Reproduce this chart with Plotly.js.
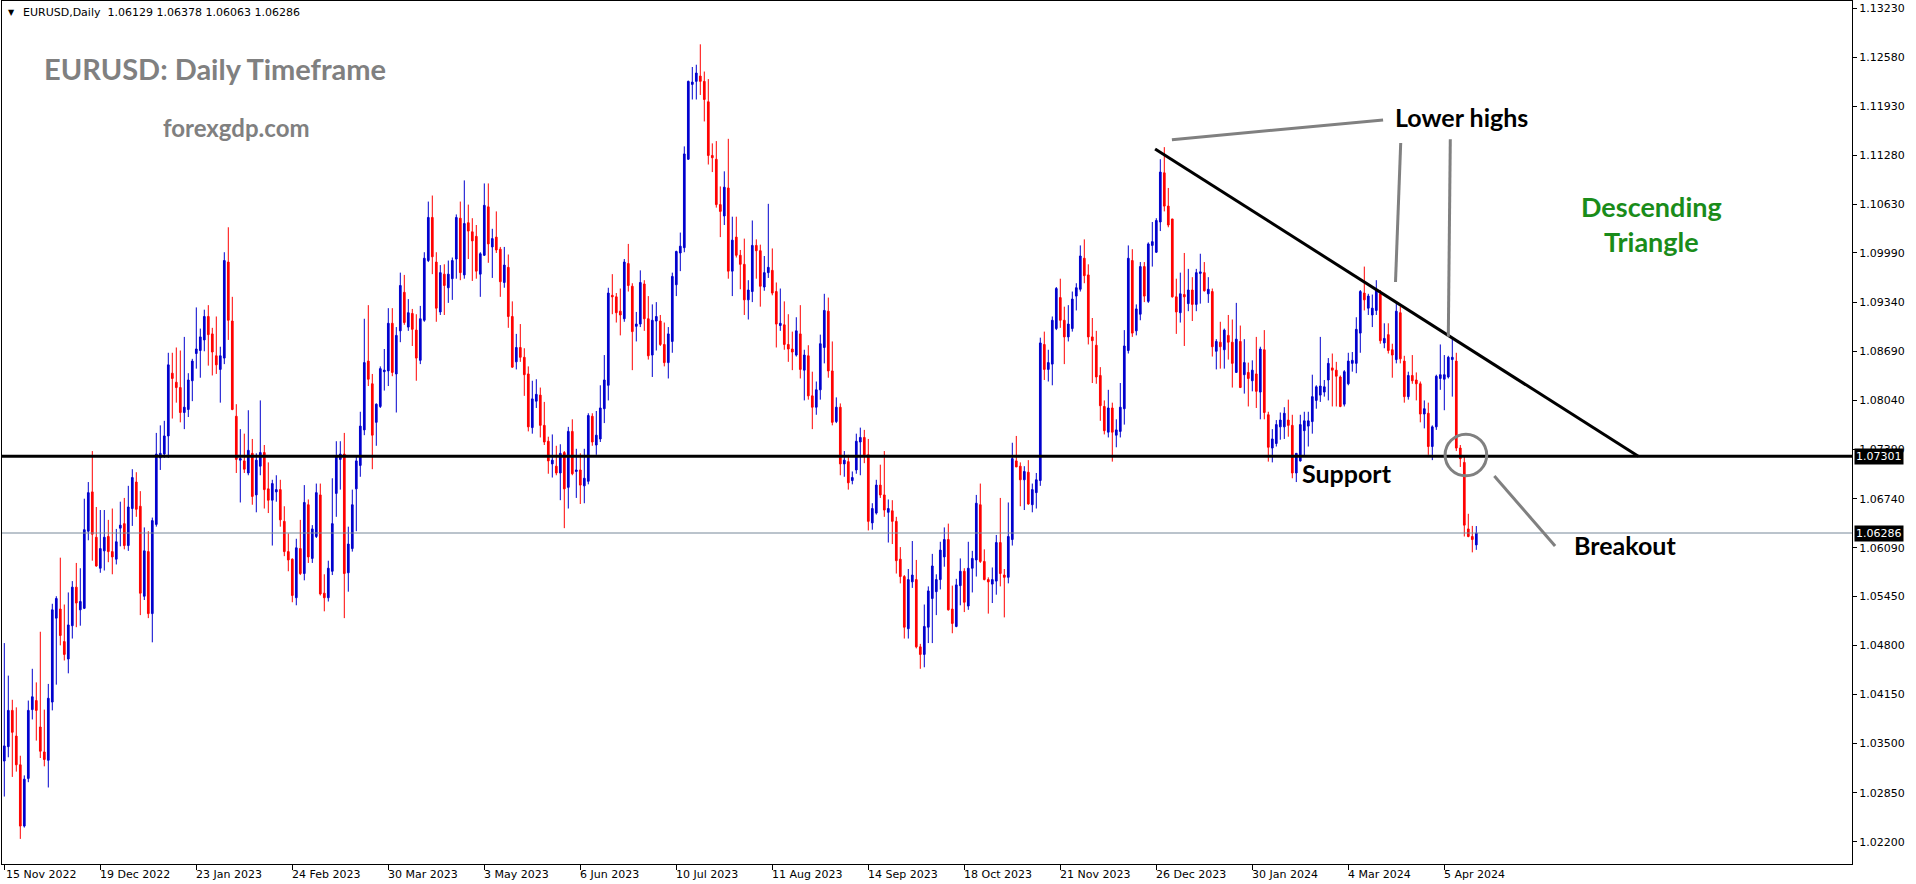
<!DOCTYPE html>
<html><head><meta charset="utf-8">
<script src="https://cdn.plot.ly/plotly-3.0.1.min.js"></script>
<style>html,body{margin:0;padding:0;background:#fff;overflow:hidden}#chart{width:1916px;height:884px}</style>
</head><body><div id="chart"></div>
<script>
// ---- data (EURUSD daily, bar index 0 = 15 Nov 2022) ----
const openP = [
1.0327,1.0346,1.0394,1.0360,1.0322,1.0241,1.0304,1.0395,1.0407,1.0372,
1.0339,1.0328,1.0405,1.0516,1.0528,1.0485,1.0462,1.0506,1.0557,1.0527,
1.0529,1.0631,1.0683,1.0623,1.0582,1.0605,1.0624,1.0604,1.0594,1.0635,
1.0641,1.0612,1.0661,1.0696,1.0664,1.0545,1.0604,1.0522,1.0640,1.0728,
1.0733,1.0757,1.0840,1.0828,1.0821,1.0788,1.0792,1.0830,1.0866,1.0870,
1.0884,1.0915,1.0892,1.0863,1.0845,1.0860,1.0987,1.0909,1.0783,1.0725,
1.0724,1.0708,1.0734,1.0679,1.0717,1.0735,1.0687,1.0672,1.0683,1.0686,
1.0644,1.0604,1.0594,1.0543,1.0608,1.0575,1.0666,1.0595,1.0624,1.0679,
1.0549,1.0543,1.0578,1.0681,1.0726,1.0733,1.0576,1.0608,1.0687,1.0718,
1.0765,1.0856,1.0826,1.0775,1.0796,1.0842,1.0843,1.0906,1.0839,1.0896,
1.0947,1.0901,1.0919,1.0897,1.0857,1.0910,1.0989,1.1046,1.0987,1.0921,
1.0971,1.0953,1.0965,1.0991,1.1045,1.0970,1.1039,1.1027,1.1021,1.0971,
1.0996,1.1060,1.1007,1.1020,1.1004,1.0960,1.0980,1.0915,1.0855,1.0874,
1.0861,1.0839,1.0768,1.0803,1.0811,1.0771,1.0750,1.0720,1.0717,1.0708,
1.0735,1.0689,1.0763,1.0710,1.0712,1.0691,1.0697,1.0783,1.0745,1.0753,
1.0793,1.0824,1.0943,1.0941,1.0922,1.0912,1.0985,1.0955,1.0902,1.0905,
1.0958,1.0912,1.0864,1.0909,1.0909,1.0878,1.0854,1.0882,1.0957,1.0999,
1.1006,1.1123,1.1222,1.1226,1.1233,1.1226,1.1199,1.1128,1.1123,1.1063,
1.1048,1.1085,1.0975,1.1020,1.0996,1.0984,1.0937,1.0948,1.1009,1.1002,
1.0954,1.0973,1.0976,1.0948,1.0903,1.0904,1.0878,1.0872,1.0864,1.0892,
1.0844,1.0863,1.0810,1.0795,1.0818,1.0874,1.0922,1.0843,1.0776,1.0795,
1.0720,1.0723,1.0698,1.0712,1.0749,1.0755,1.0732,1.0642,1.0655,1.0692,
1.0679,1.0656,1.0658,1.0644,1.0594,1.0571,1.0502,1.0564,1.0567,1.0478,
1.0468,1.0504,1.0542,1.0551,1.0567,1.0597,1.0620,1.0528,1.0505,1.0559,
1.0578,1.0532,1.0582,1.0593,1.0666,1.0591,1.0567,1.0561,1.0565,1.0616,
1.0573,1.0570,1.0620,1.0724,1.0717,1.0699,1.0709,1.0666,1.0682,1.0698,
1.0878,1.0845,1.0852,1.0899,1.0940,1.0910,1.0888,1.0899,1.0942,1.0951,
1.0992,1.0970,1.0888,1.0877,1.0837,1.0796,1.0762,1.0794,1.0758,1.0763,
1.0793,1.0870,1.0989,1.0896,1.0918,1.0981,1.0935,1.1009,1.1000,1.1040,
1.1105,1.1061,1.1044,1.0941,1.0920,1.0944,1.0932,1.0950,1.0931,1.0972,
1.0973,1.0945,1.0948,1.0869,1.0881,1.0871,1.0890,1.0881,1.0841,1.0882,
1.0838,1.0841,1.0830,1.0839,1.0815,1.0871,1.0785,1.0741,1.0747,1.0769,
1.0769,1.0778,1.0771,1.0708,1.0724,1.0764,1.0770,1.0776,1.0804,1.0811,
1.0815,1.0831,1.0847,1.0844,1.0835,1.0799,1.0826,1.0853,1.0853,1.0893,
1.0946,1.0926,1.0917,1.0923,1.0945,1.0880,1.0891,1.0871,1.0858,1.0920,
1.0856,1.0809,1.0837,1.0831,1.0826,1.0786,1.0787,1.0743,1.0769,1.0833,
1.0832,1.0835,1.0858,1.0856,1.0741,1.0722,1.0634,1.0624,1.06129];
const highP = [
1.0483,1.0440,1.0408,1.0398,1.0334,1.0308,1.0407,1.0449,1.0431,1.0498,
1.0395,1.0429,1.0535,1.0545,1.0596,1.0534,1.0550,1.0565,1.0589,1.0582,
1.0674,1.0696,1.0737,1.0663,1.0659,1.0659,1.0646,1.0661,1.0634,1.0670,
1.0675,1.0691,1.0713,1.0709,1.0684,1.0636,1.0631,1.0649,1.0761,1.0771,
1.0777,1.0867,1.0867,1.0874,1.0870,1.0888,1.0840,1.0859,1.0927,1.0899,
1.0924,1.0930,1.0900,1.0915,1.0875,1.1000,1.1033,1.0941,1.0799,1.0766,
1.0760,1.0791,1.0753,1.0734,1.0804,1.0745,1.0722,1.0699,1.0705,1.0699,
1.0664,1.0628,1.0595,1.0621,1.0646,1.0692,1.0673,1.0639,1.0694,1.0694,
1.0574,1.0592,1.0701,1.0750,1.0750,1.0761,1.0637,1.0686,1.0730,1.0789,
1.0912,1.0930,1.0839,1.0800,1.0849,1.0872,1.0926,1.0926,1.0901,1.0973,
1.0970,1.0938,1.0925,1.0918,1.0929,1.1000,1.1067,1.1075,1.1000,1.0983,
1.0984,1.0989,1.0993,1.1050,1.1067,1.1095,1.1063,1.1045,1.1036,1.1000,
1.1091,1.1091,1.1031,1.1054,1.1007,1.1007,1.0997,1.0935,1.0892,1.0905,
1.0873,1.0849,1.0830,1.0832,1.0821,1.0802,1.0756,1.0759,1.0744,1.0746,
1.0737,1.0769,1.0779,1.0740,1.0734,1.0740,1.0787,1.0787,1.0790,1.0824,
1.0864,1.0953,1.0971,1.0946,1.0952,1.0991,1.1011,1.0959,1.0921,1.0976,
1.0963,1.0942,1.0931,1.0934,1.0917,1.0907,1.0901,1.0973,1.1002,1.1026,
1.1140,1.1227,1.1245,1.1248,1.1275,1.1239,1.1229,1.1144,1.1147,1.1087,
1.1107,1.1150,1.1047,1.1047,1.1003,1.1018,1.0963,1.1042,1.1017,1.1010,
1.0995,1.1064,1.1005,1.0960,1.0952,1.0935,1.0918,1.0895,1.0914,1.0930,
1.0871,1.0877,1.0842,1.0829,1.0891,1.0945,1.0940,1.0882,1.0808,1.0800,
1.0737,1.0732,1.0710,1.0760,1.0768,1.0765,1.0753,1.0668,1.0699,1.0719,
1.0737,1.0673,1.0672,1.0650,1.0610,1.0573,1.0581,1.0618,1.0593,1.0482,
1.0534,1.0558,1.0601,1.0574,1.0617,1.0636,1.0641,1.0559,1.0568,1.0595,
1.0582,1.0617,1.0605,1.0679,1.0694,1.0607,1.0570,1.0583,1.0626,1.0675,
1.0581,1.0669,1.0748,1.0757,1.0722,1.0717,1.0725,1.0694,1.0708,1.0887,
1.0895,1.0871,1.0915,1.0954,1.0965,1.0928,1.0930,1.0948,1.0959,1.1009,
1.1017,1.0984,1.0913,1.0896,1.0848,1.0804,1.0818,1.0801,1.0779,1.0827,
1.0897,1.1009,1.1004,1.0931,1.0987,1.0987,1.1013,1.1040,1.1045,1.1123,
1.1139,1.1085,1.1044,1.0965,1.0973,1.0999,1.0978,1.0967,1.0978,1.0998,
1.0987,1.0967,1.0952,1.0885,1.0908,1.0899,1.0917,1.0911,1.0933,1.0903,
1.0885,1.0854,1.0857,1.0888,1.0875,1.0897,1.0789,1.0766,1.0778,1.0788,
1.0795,1.0805,1.0785,1.0734,1.0785,1.0789,1.0789,1.0838,1.0824,1.0888,
1.0831,1.0860,1.0866,1.0855,1.0837,1.0844,1.0867,1.0868,1.0914,1.0950,
1.0981,1.0945,1.0944,1.0963,1.0950,1.0906,1.0906,1.0879,1.0934,1.0928,
1.0863,1.0842,1.0864,1.0841,1.0829,1.0804,1.0801,1.0771,1.0838,1.0878,
1.0864,1.0863,1.0886,1.0867,1.0745,1.0730,1.0654,1.0638,1.06378];
const lowP = [
1.0280,1.0332,1.0306,1.0313,1.0224,1.0239,1.0299,1.0382,1.0354,1.0331,
1.0320,1.0292,1.0394,1.0428,1.0480,1.0460,1.0443,1.0489,1.0504,1.0506,
1.0528,1.0619,1.0592,1.0584,1.0576,1.0579,1.0590,1.0574,1.0587,1.0611,
1.0607,1.0605,1.0638,1.0650,1.0520,1.0540,1.0516,1.0484,1.0637,1.0712,
1.0728,1.0728,1.0780,1.0801,1.0775,1.0766,1.0782,1.0803,1.0846,1.0834,
1.0869,1.0850,1.0837,1.0839,1.0801,1.0852,1.0884,1.0791,1.0708,1.0669,
1.0708,1.0705,1.0666,1.0656,1.0705,1.0661,1.0655,1.0612,1.0670,1.0637,
1.0598,1.0578,1.0537,1.0533,1.0573,1.0566,1.0589,1.0589,1.0622,1.0546,
1.0525,1.0538,1.0573,1.0650,1.0686,1.0516,1.0551,1.0604,1.0631,1.0703,
1.0758,1.0823,1.0713,1.0744,1.0794,1.0817,1.0823,1.0836,1.0788,1.0881,
1.0904,1.0896,1.0876,1.0830,1.0852,1.0908,1.0987,1.0971,1.0908,1.0917,
1.0917,1.0933,1.0937,1.0965,1.0963,1.0965,1.0991,1.0962,1.0965,1.0941,
1.0995,1.0986,1.0966,1.0999,1.0941,1.0953,1.0900,1.0847,1.0845,1.0855,
1.0810,1.0763,1.0760,1.0794,1.0755,1.0745,1.0707,1.0702,1.0705,1.0672,
1.0635,1.0661,1.0705,1.0675,1.0667,1.0668,1.0693,1.0744,1.0732,1.0749,
1.0774,1.0804,1.0918,1.0907,1.0890,1.0908,1.0948,1.0844,1.0882,1.0901,
1.0896,1.0858,1.0835,1.0870,1.0876,1.0849,1.0833,1.0867,1.0942,1.0975,
1.1000,1.1122,1.1202,1.1202,1.1208,1.1173,1.1116,1.1106,1.1059,1.1020,
1.1036,1.0965,1.0942,1.0993,1.0951,1.0917,1.0911,1.0934,1.0965,1.0928,
1.0949,1.0966,1.0943,1.0874,1.0896,1.0871,1.0855,1.0844,1.0862,1.0833,
1.0804,1.0805,1.0766,1.0785,1.0805,1.0853,1.0834,1.0771,1.0774,1.0705,
1.0703,1.0686,1.0693,1.0707,1.0705,1.0721,1.0632,1.0633,1.0653,1.0675,
1.0650,1.0616,1.0614,1.0575,1.0562,1.0489,1.0489,1.0556,1.0476,1.0449,
1.0451,1.0483,1.0483,1.0520,1.0554,1.0584,1.0526,1.0496,1.0504,1.0533,
1.0524,1.0527,1.0550,1.0571,1.0589,1.0566,1.0522,1.0536,1.0547,1.0558,
1.0517,1.0562,1.0612,1.0716,1.0664,1.0659,1.0666,1.0656,1.0661,1.0691,
1.0831,1.0829,1.0824,1.0897,1.0900,1.0852,1.0882,1.0895,1.0923,1.0948,
1.0959,1.0878,1.0827,1.0826,1.0777,1.0759,1.0755,1.0723,1.0742,1.0755,
1.0772,1.0866,1.0888,1.0890,1.0910,1.0934,1.0933,1.0981,1.0999,1.1028,
1.1054,1.1033,1.0940,1.0892,1.0907,1.0876,1.0922,1.0909,1.0922,1.0932,
1.0948,1.0933,1.0862,1.0845,1.0846,1.0846,1.0858,1.0821,1.0841,1.0821,
1.0813,1.0796,1.0816,1.0794,1.0779,1.0779,1.0723,1.0722,1.0743,1.0752,
1.0753,1.0756,1.0701,1.0696,1.0723,1.0730,1.0743,1.0760,1.0793,1.0802,
1.0809,1.0804,1.0796,1.0796,1.0795,1.0796,1.0824,1.0842,1.0840,1.0867,
1.0923,1.0917,1.0901,1.0917,1.0879,1.0873,1.0866,1.0834,1.0853,1.0853,
1.0801,1.0805,1.0826,1.0804,1.0775,1.0767,1.0732,1.0725,1.0765,1.0818,
1.0791,1.0833,1.0809,1.0737,1.0716,1.0624,1.0623,1.0603,1.06063];
const closeP = [
1.0347,1.0394,1.0365,1.0322,1.0241,1.0303,1.0394,1.0412,1.0394,1.0340,
1.0329,1.0410,1.0527,1.0542,1.0493,1.0468,1.0507,1.0557,1.0536,1.0538,
1.0633,1.0682,1.0627,1.0585,1.0608,1.0623,1.0604,1.0597,1.0617,1.0639,
1.0612,1.0663,1.0702,1.0660,1.0549,1.0605,1.0522,1.0645,1.0733,1.0734,
1.0757,1.0851,1.0833,1.0821,1.0788,1.0795,1.0831,1.0856,1.0872,1.0888,
1.0915,1.0891,1.0868,1.0851,1.0863,1.0989,1.0910,1.0792,1.0726,1.0727,
1.0713,1.0738,1.0677,1.0725,1.0735,1.0686,1.0672,1.0694,1.0686,1.0646,
1.0604,1.0593,1.0546,1.0609,1.0575,1.0669,1.0597,1.0634,1.0682,1.0548,
1.0543,1.0582,1.0641,1.0730,1.0733,1.0575,1.0614,1.0666,1.0724,1.0770,
1.0854,1.0832,1.0758,1.0799,1.0846,1.0844,1.0906,1.0841,1.0890,1.0956,
1.0907,1.0920,1.0898,1.0860,1.0912,1.0992,1.1046,1.0994,1.0926,1.0973,
1.0956,1.0971,1.0989,1.1046,1.0973,1.1038,1.1028,1.1015,1.0975,1.0998,
1.1062,1.1011,1.1018,1.1003,1.0961,1.0983,1.0915,1.0848,1.0874,1.0861,
1.0838,1.0769,1.0806,1.0812,1.0771,1.0749,1.0724,1.0725,1.0708,1.0734,
1.0687,1.0763,1.0707,1.0712,1.0692,1.0701,1.0784,1.0749,1.0758,1.0794,
1.0831,1.0946,1.0941,1.0920,1.0917,1.0987,1.0956,1.0895,1.0905,1.0960,
1.0912,1.0863,1.0910,1.0915,1.0878,1.0854,1.0892,1.0968,1.1001,1.1008,
1.1130,1.1226,1.1225,1.1237,1.1226,1.1202,1.1128,1.1125,1.1063,1.1054,
1.1086,1.0975,1.1016,1.0996,1.0984,1.0937,1.0950,1.1009,1.1002,1.0955,
1.0973,1.0980,1.0946,1.0905,1.0906,1.0878,1.0872,1.0868,1.0896,1.0845,
1.0864,1.0810,1.0795,1.0818,1.0879,1.0923,1.0843,1.0775,1.0795,1.0720,
1.0725,1.0695,1.0702,1.0750,1.0755,1.0732,1.0644,1.0661,1.0692,1.0679,
1.0659,1.0661,1.0644,1.0592,1.0571,1.0504,1.0567,1.0573,1.0478,1.0468,
1.0505,1.0552,1.0585,1.0567,1.0606,1.0620,1.0527,1.0509,1.0560,1.0578,
1.0537,1.0582,1.0595,1.0668,1.0591,1.0567,1.0564,1.0567,1.0616,1.0575,
1.0570,1.0624,1.0727,1.0716,1.0699,1.0710,1.0667,1.0686,1.0699,1.0880,
1.0845,1.0854,1.0910,1.0952,1.0910,1.0888,1.0905,1.0938,1.0953,1.0995,
1.0969,1.0888,1.0883,1.0835,1.0797,1.0764,1.0794,1.0762,1.0765,1.0795,
1.0876,1.0992,1.0893,1.0925,1.0981,1.0942,1.1011,1.1014,1.1042,1.1106,
1.1061,1.1036,1.0941,1.0921,1.0945,1.0941,1.0950,1.0931,1.0973,1.0974,
1.0949,1.0951,1.0875,1.0882,1.0875,1.0897,1.0881,1.0853,1.0885,1.0821,
1.0854,1.0833,1.0844,1.0816,1.0872,1.0788,1.0742,1.0753,1.0772,1.0778,
1.0787,1.0771,1.0708,1.0734,1.0772,1.0777,1.0777,1.0809,1.0822,1.0823,
1.0822,1.0853,1.0844,1.0836,1.0796,1.0842,1.0856,1.0857,1.0898,1.0948,
1.0937,1.0942,1.0926,1.0950,1.0883,1.0886,1.0870,1.0864,1.0922,1.0859,
1.0809,1.0837,1.0830,1.0826,1.0786,1.0793,1.0743,1.0769,1.0836,1.0838,
1.0838,1.0861,1.0861,1.0741,1.0727,1.0639,1.0624,1.0620,1.06286];

const dateLabels = ['15 Nov 2022','19 Dec 2022','23 Jan 2023','24 Feb 2023','30 Mar 2023','3 May 2023',
  '6 Jun 2023','10 Jul 2023','11 Aug 2023','14 Sep 2023','18 Oct 2023','21 Nov 2023','26 Dec 2023',
  '30 Jan 2024','4 Mar 2024','5 Apr 2024'];
const dateLabelBars = [0,24,48,72,96,120,144,168,192,216,240,264,288,312,336,360];
const priceTicks = [1.13230,1.12580,1.11930,1.11280,1.10630,1.09990,1.09340,1.08690,1.08040,1.07390,
  1.06740,1.06090,1.05450,1.04800,1.04150,1.03500,1.02850,1.02200];
const supportLevel = 1.07301;
const bidLevel = 1.06286;
const headerText = 'EURUSD,Daily  1.06129 1.06378 1.06063 1.06286';
// drawn analysis objects (bar index, price)
const trendBars = [287.7, 408.5];
const trendPrices = [1.11366, 1.07301];
const pointerA = {bars:[291.9, 344.7], prices:[1.11489, 1.11749]};
const pointerB = {bars:[349.1, 347.8], prices:[1.11445, 1.09607]};
const pointerC = {bars:[361.5, 361.0], prices:[1.11494, 1.08883]};
const pointerD = {bars:[372.5, 387.7], prices:[1.07040, 1.06115]};
const breakoutCircle = {bars:[360.2, 370.6], prices:[1.07043, 1.07593]};

// ---- geometry ----
const W = 1916, H = 884, L = 2, R = 1852, T = 1, B = 864;
const px = x => (x - L) / (R - L);
const py = y => (B - y) / (B - T);
const axisFont = {family: 'DejaVu Sans, sans-serif', size: 11, color: '#000'};

const trace = {
  type: 'candlestick',
  x: openP.map((_, i) => i),
  open: openP, high: highP, low: lowP, close: closeP,
  increasing: {line: {color: '#0000CD', width: 1}, fillcolor: '#0000CD'},
  decreasing: {line: {color: '#FF0000', width: 1}, fillcolor: '#FF0000'},
  whiskerwidth: 0,
  hoverinfo: 'skip'
};

const greyLine = {color: '#808080', width: 3};
const shapes = [
  {type:'line', xref:'paper', yref:'y', x0:0, x1:1, y0:bidLevel, y1:bidLevel, line:{color:'#778899', width:1}},
  {type:'line', xref:'paper', yref:'y', x0:0, x1:1, y0:supportLevel, y1:supportLevel, line:{color:'#000', width:3}},
  {type:'line', xref:'x', yref:'y', x0:trendBars[0], x1:trendBars[1], y0:trendPrices[0], y1:trendPrices[1], line:{color:'#000', width:3}},
  {type:'line', xref:'x', yref:'y', x0:pointerA.bars[0], x1:pointerA.bars[1], y0:pointerA.prices[0], y1:pointerA.prices[1], line:greyLine},
  {type:'line', xref:'x', yref:'y', x0:pointerB.bars[0], x1:pointerB.bars[1], y0:pointerB.prices[0], y1:pointerB.prices[1], line:greyLine},
  {type:'line', xref:'x', yref:'y', x0:pointerC.bars[0], x1:pointerC.bars[1], y0:pointerC.prices[0], y1:pointerC.prices[1], line:greyLine},
  {type:'line', xref:'x', yref:'y', x0:pointerD.bars[0], x1:pointerD.bars[1], y0:pointerD.prices[0], y1:pointerD.prices[1], line:greyLine},
  {type:'circle', xref:'x', yref:'y', x0:breakoutCircle.bars[0], x1:breakoutCircle.bars[1], y0:breakoutCircle.prices[0], y1:breakoutCircle.prices[1], line:greyLine}
];

const bold = (t) => '<b>' + t + '</b>';
const titleFont = 'Lato, "Open Sans", sans-serif';
const annotations = [
  {xref:'paper', yref:'paper', x:px(11.5), y:py(12.5), xanchor:'center', yanchor:'middle', text:'▼', showarrow:false, font:{family:'DejaVu Sans', size:8, color:'#000'}},
  {xref:'paper', yref:'paper', x:px(21), y:py(12.5), xanchor:'left', yanchor:'middle', text:headerText, showarrow:false, font:axisFont},
  {xref:'paper', yref:'paper', x:px(215), y:py(68), xanchor:'center', yanchor:'middle', text:bold('EURUSD: Daily Timeframe'), showarrow:false, font:{family:titleFont, size:29, color:'#808080'}},
  {xref:'paper', yref:'paper', x:px(236), y:py(128), xanchor:'center', yanchor:'middle', text:bold('forexgdp.com'), showarrow:false, font:{family:titleFont, size:24, color:'#808080'}},
  {xref:'paper', yref:'paper', x:px(1461), y:py(117), xanchor:'center', yanchor:'middle', text:bold('Lower highs'), showarrow:false, font:{family:titleFont, size:25, color:'#000'}},
  {xref:'paper', yref:'paper', x:px(1651), y:py(224), xanchor:'center', yanchor:'middle', text:bold('Descending<br>Triangle'), showarrow:false, font:{family:titleFont, size:27, color:'#1a8c1a'}},
  {xref:'paper', yref:'paper', x:px(1347), y:py(473), xanchor:'center', yanchor:'middle', text:bold('Support'), showarrow:false, font:{family:titleFont, size:25, color:'#000'}},
  {xref:'paper', yref:'paper', x:px(1625), y:py(545), xanchor:'center', yanchor:'middle', text:bold('Breakout'), showarrow:false, font:{family:titleFont, size:25, color:'#000'}},
  {xref:'paper', yref:'y', x:1, xshift:2, y:supportLevel, xanchor:'left', yanchor:'middle', text:supportLevel.toFixed(5), showarrow:false, bgcolor:'#000', borderpad:1, font:{family:'DejaVu Sans', size:11, color:'#fff'}},
  {xref:'paper', yref:'y', x:1, xshift:2, y:bidLevel, xanchor:'left', yanchor:'middle', text:bidLevel.toFixed(5), showarrow:false, bgcolor:'#000', borderpad:1, font:{family:'DejaVu Sans', size:11, color:'#fff'}}
];
dateLabels.forEach((lab, k) => {
  annotations.push({xref:'x', yref:'paper', x:dateLabelBars[k], y:0, yshift:-2, xshift:(k === 0 ? 0 : -2), xanchor:'left', yanchor:'top',
    text:lab, showarrow:false, font:axisFont});
});

const layout = {
  width: W, height: H,
  margin: {l: L, r: W - R, t: T, b: H - B, pad: 0},
  paper_bgcolor: '#fff', plot_bgcolor: '#fff',
  showlegend: false,
  boxgap: 0.4,
  xaxis: {
    range: [(L - 4.3) / 4, (R - 4.3) / 4],
    tickvals: dateLabelBars, showticklabels: false,
    ticks: 'outside', ticklen: 5, tickcolor: '#000', tickwidth: 1,
    showgrid: false, zeroline: false,
    showline: true, linecolor: '#000', linewidth: 1, mirror: true,
    rangeslider: {visible: false}, fixedrange: true
  },
  yaxis: {
    side: 'right',
    range: [1.01908, 1.13323],
    tickvals: priceTicks, ticktext: priceTicks.map(v => v.toFixed(5)),
    ticks: 'outside', ticklen: 4, tickcolor: '#000',
    tickfont: axisFont,
    showgrid: false, zeroline: false,
    showline: true, linecolor: '#000', linewidth: 1, mirror: true,
    fixedrange: true
  },
  shapes: shapes,
  annotations: annotations
};

Plotly.newPlot('chart', [trace], layout, {staticPlot: true, displayModeBar: false});
</script>
</body></html>
